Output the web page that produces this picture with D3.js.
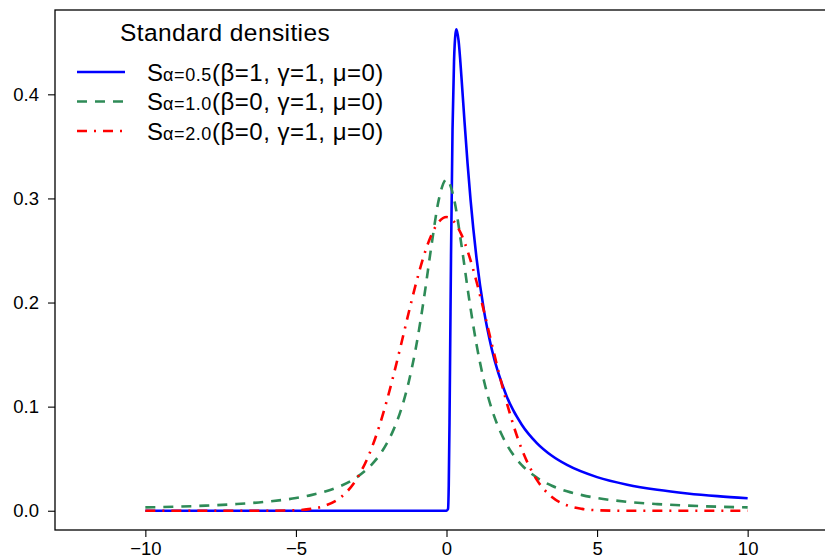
<!DOCTYPE html>
<html>
<head>
<meta charset="utf-8">
<script src="https://d3js.org/d3.v7.min.js"></script>
<style>
  body { margin: 0; background: #fff; }
  svg { display: block; font-family: "Liberation Sans", Arial, sans-serif; }
</style>
</head>
<body>
<div id="chart"></div>
<script>
  // values
  const alpha05X = [-10, -5, 0, 0.05, 0.075, 0.1, 0.125, 0.15, 0.2, 0.25, 0.3, 0.333, 0.4, 0.5, 0.6, 0.7, 0.8, 1, 1.25, 1.5, 2, 2.5, 3, 3.5, 4, 5, 6, 7, 8, 9, 10];
  const alpha05Y = [0, 0, 0, 0.0016, 0.0247, 0.0850, 0.1654, 0.2449, 0.3661, 0.4319, 0.4585, 0.4625, 0.4518, 0.4151, 0.3730, 0.3334, 0.2984, 0.2420, 0.1913, 0.1556, 0.1098, 0.0826, 0.0650, 0.0528, 0.0440, 0.0323, 0.0250, 0.0201, 0.0166, 0.0140, 0.0120];

  const symX = [-10, -9, -8, -7, -6, -5, -4.5, -4, -3.5, -3, -2.5, -2.25, -2, -1.75, -1.5, -1.25, -1, -0.75, -0.5, -0.25, 0,
                0.25, 0.5, 0.75, 1, 1.25, 1.5, 1.75, 2, 2.25, 2.5, 3, 3.5, 4, 4.5, 5, 6, 7, 8, 9, 10];
  const alpha10Y = [0.0032, 0.0039, 0.0049, 0.0064, 0.0086, 0.0122, 0.0150, 0.0187, 0.0240, 0.0318, 0.0439, 0.0525, 0.0637, 0.0784, 0.0979, 0.1242, 0.1592, 0.2037, 0.2546, 0.2996, 0.3183,
                    0.2996, 0.2546, 0.2037, 0.1592, 0.1242, 0.0979, 0.0784, 0.0637, 0.0525, 0.0439, 0.0318, 0.0240, 0.0187, 0.0150, 0.0122, 0.0086, 0.0064, 0.0049, 0.0039, 0.0032];
  const alpha20Y = [0, 0, 0, 0, 0, 0.0005, 0.0018, 0.0052, 0.0132, 0.0297, 0.0591, 0.0796, 0.1038, 0.1312, 0.1607, 0.1909, 0.2197, 0.2451, 0.2650, 0.2777, 0.2821,
                    0.2777, 0.2650, 0.2451, 0.2197, 0.1909, 0.1607, 0.1312, 0.1038, 0.0796, 0.0591, 0.0297, 0.0132, 0.0052, 0.0018, 0.0005, 0, 0, 0, 0, 0];

  const xTicks = [-10, -5, 0, 5, 10];
  const yTicks = [0, 0.1, 0.2, 0.3, 0.4];

  const legendTitle = 'Standard densities';
  const legendSubs = ['α=0.5', 'α=1.0', 'α=2.0'];
  const legendRest = ['(β=1, γ=1, μ=0)', '(β=0, γ=1, μ=0)', '(β=0, γ=1, μ=0)'];

  const series = [
    {x: alpha05X, y: alpha05Y, color: '#0000ff', dash: null},
    {x: symX, y: alpha10Y, color: '#2e8b57', dash: '10,8'},
    {x: symX, y: alpha20Y, color: '#ff0000', dash: '10,7,2,7'}
  ];

  const W = 825, H = 560;
  const svg = d3.select('#chart').append('svg')
    .attr('width', W)
    .attr('height', H);

  const x = d3.scaleLinear().domain([-13, 13]).range([55, 838]);
  const y = d3.scaleLinear().domain([-0.0185, 0.481]).range([530, 10]);

  // frame
  svg.append('rect')
    .attr('x', x(-13)).attr('y', y(0.481))
    .attr('width', x(13) - x(-13)).attr('height', y(-0.0185) - y(0.481))
    .style('fill', 'none').style('stroke', '#000').style('stroke-width', 1.3);

  // axes
  const xAxis = svg.append('g')
    .attr('transform', `translate(0,${y(-0.0185)})`)
    .call(d3.axisBottom(x).tickValues(xTicks).tickSize(7).tickPadding(5)
      .tickFormat(d => d < 0 ? '\u2212' + Math.abs(d) : d));
  const yAxis = svg.append('g')
    .attr('transform', `translate(${x(-13)},0)`)
    .call(d3.axisLeft(y).tickValues(yTicks).tickSize(7).tickPadding(9)
      .tickFormat(d3.format('.1f')));
  [xAxis, yAxis].forEach(a => {
    a.select('.domain').remove();
    a.selectAll('line').style('stroke', '#000').style('stroke-width', 1.1);
    a.selectAll('text').style('font-size', '18.5px').style('fill', '#000')
      .style('font-family', '"Liberation Sans", Arial, sans-serif');
  });

  // curves
  const line = d3.line()
    .x(d => x(d[0]))
    .y(d => y(d[1]))
    .curve(d3.curveMonotoneX);

  series.forEach(s => {
    const pts = s.x.map((v, i) => [v, s.y[i]]);
    svg.append('path')
      .datum(pts)
      .attr('d', line)
      .style('fill', 'none')
      .style('stroke', s.color)
      .style('stroke-width', 2.6)
      .style('stroke-dasharray', s.dash);
  });

  // legend
  const leg = svg.append('g');
  leg.append('text')
    .attr('x', 120).attr('y', 41)
    .style('font-size', '24.5px')
    .style('letter-spacing', '0.4px')
    .text(legendTitle);

  series.forEach((s, i) => {
    const ly = 72 + i * 29.5;
    leg.append('line')
      .attr('x1', 77).attr('x2', 125)
      .attr('y1', ly).attr('y2', ly)
      .style('stroke', s.color)
      .style('stroke-width', 2.6)
      .style('stroke-dasharray', s.dash);
    const t = leg.append('text')
      .attr('x', 147).attr('y', ly + 8.5)
      .style('font-size', '24px');
    t.append('tspan').text('S');
    t.append('tspan').style('font-size', '18px').style('letter-spacing', '0.6px').text(legendSubs[i]);
    t.append('tspan').style('letter-spacing', '0.5px').text(legendRest[i]);
  });
</script>
</body>
</html>
